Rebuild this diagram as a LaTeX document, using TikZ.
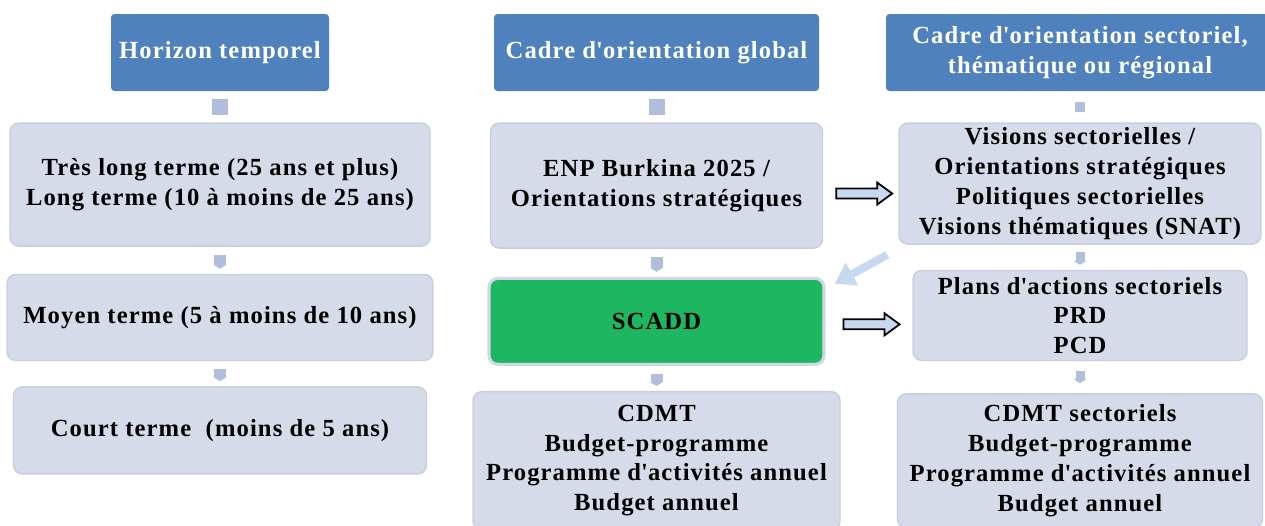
\documentclass[tikz,border=0pt]{standalone}
\usepackage{fontspec}
\setmainfont{Liberation Serif}
\newfontfamily\diagfont{Liberation Serif}[LetterSpace=4.5]
\usepackage{tikz}
\usetikzlibrary{positioning,arrows.meta}

\definecolor{headblue}{HTML}{4F81BD}
\definecolor{boxfill}{HTML}{D5DBE8}
\definecolor{boxline}{HTML}{C6CEDF}
\definecolor{linkblue}{HTML}{B0C0DC}
\definecolor{arrowblue}{HTML}{C6D9F1}
\definecolor{scaddgreen}{HTML}{1DB762}

\newcommand{\ap}{\textquotesingle}

\begin{document}
\begin{tikzpicture}[
  font=\diagfont\bfseries\fontsize{14}{17}\selectfont,
  head/.style={fill=headblue, text=white, rounded corners=2pt, minimum height=1.54cm, align=center, inner sep=2pt},
  box/.style={draw=boxline, line width=0.8pt, fill=boxfill, rounded corners=5pt, align=center, inner sep=2pt},
  greenbox/.style={box, fill=scaddgreen, draw=boxline!80, line width=1.8pt},
  sq/.style={draw=linkblue, line width=0.32cm, shorten <=0.15cm, shorten >=0.15cm},
  chev/.style={draw=linkblue, line width=0.24cm, -{Triangle[width=0.26cm, length=0.08cm]}, shorten <=0.16cm, shorten >=0.1cm},
  blockarrow/.style={draw=black, fill=arrowblue, line width=1pt, line join=miter},
  diag/.style={draw=arrowblue, line width=0.16cm, -{Triangle[width=0.5cm, length=0.4cm]}}
]
\useasboundingbox (0,0) rectangle (25.3,-10.5);

% headers
\node[head, minimum width=4.36cm] (h1) at (4.40,-1.05) {Horizon temporel};
\node[head, minimum width=6.5cm] (h2) at (13.13,-1.05) {Cadre d\ap orientation global};
\node[head, minimum width=7.76cm] (h3) at (21.6,-1.05) {Cadre d\ap orientation sectoriel,\\th\'ematique ou r\'egional};

% time horizon column
\node[box, minimum width=8.4cm, minimum height=2.46cm, below=0.62cm of h1] (a1) {Très long terme (25 ans et plus)\\Long terme (10 à moins de 25 ans)};
\node[box, minimum width=8.52cm, minimum height=1.72cm, below=0.54cm of a1] (a2) {Moyen terme (5 à moins de 10 ans)};
\node[box, minimum width=8.26cm, minimum height=1.74cm, below=0.5cm of a2] (a3) {Court terme\ \ (moins de 5 ans)};

% global column
\node[box, minimum width=6.64cm, minimum height=2.5cm, below=0.62cm of h2] (b1) {ENP Burkina 2025 /\\Orientations stratégiques};
\node[greenbox, minimum width=6.7cm, minimum height=1.72cm, below=0.56cm of b1] (b2) {SCADD};
\node[box, minimum width=7.34cm, minimum height=2.76cm, below=0.5cm of b2] (b3) {CDMT\\Budget-programme\\Programme d\ap activités annuel\\Budget annuel};

% sectoral column
\node[box, minimum width=7.24cm, minimum height=2.42cm, below=0.62cm of h3] (c1) {Visions sectorielles /\\Orientations stratégiques\\Politiques sectorielles\\Visions thématiques (SNAT)};
\node[box, minimum width=6.68cm, minimum height=1.8cm, below=0.5cm of c1] (c2) {Plans d\ap actions sectoriels\\PRD\\PCD};
\node[box, minimum width=7.3cm, minimum height=2.68cm, below=0.64cm of c2] (c3) {CDMT sectoriels\\Budget-programme\\Programme d\ap activités annuel\\Budget annuel};

% links in the columns
\draw[sq] (h1) -- (a1);
\draw[sq] (h2) -- (b1);
\draw[sq, line width=0.2cm, shorten <=0.22cm, shorten >=0.2cm] (h3) -- (c1);
\draw[chev] (a1) -- (a2);
\draw[chev] (a2) -- (a3);
\draw[chev] (b1) -- (b2);
\draw[chev] (b2) -- (b3);
\draw[chev, line width=0.18cm, shorten <=0.14cm] (c1) -- (c2);
\draw[chev, line width=0.18cm, shorten <=0.2cm, shorten >=0.2cm] (c2) -- (c3);

% block arrows
\coordinate (r1) at ([shift={(0.26,-0.16)}]b1.east);
\coordinate (r2) at ([shift={(0.36,-0.06)}]b2.east);
\foreach \s in {r1,r2}
  \draw[blockarrow] (\s) ++(0,0.1) -- ++(0.82,0) -- ++(0,0.12) -- ++(0.3,-0.22)
    -- ++(-0.3,-0.22) -- ++(0,0.12) -- ++(-0.82,0) -- cycle;

\coordinate (d1) at ([shift={(-0.22,-0.2)}]c1.south west);
\coordinate (d2) at ([shift={(0.18,-0.14)}]b2.north east);
\draw[diag] (d1) -- (d2);
\end{tikzpicture}
\end{document}
